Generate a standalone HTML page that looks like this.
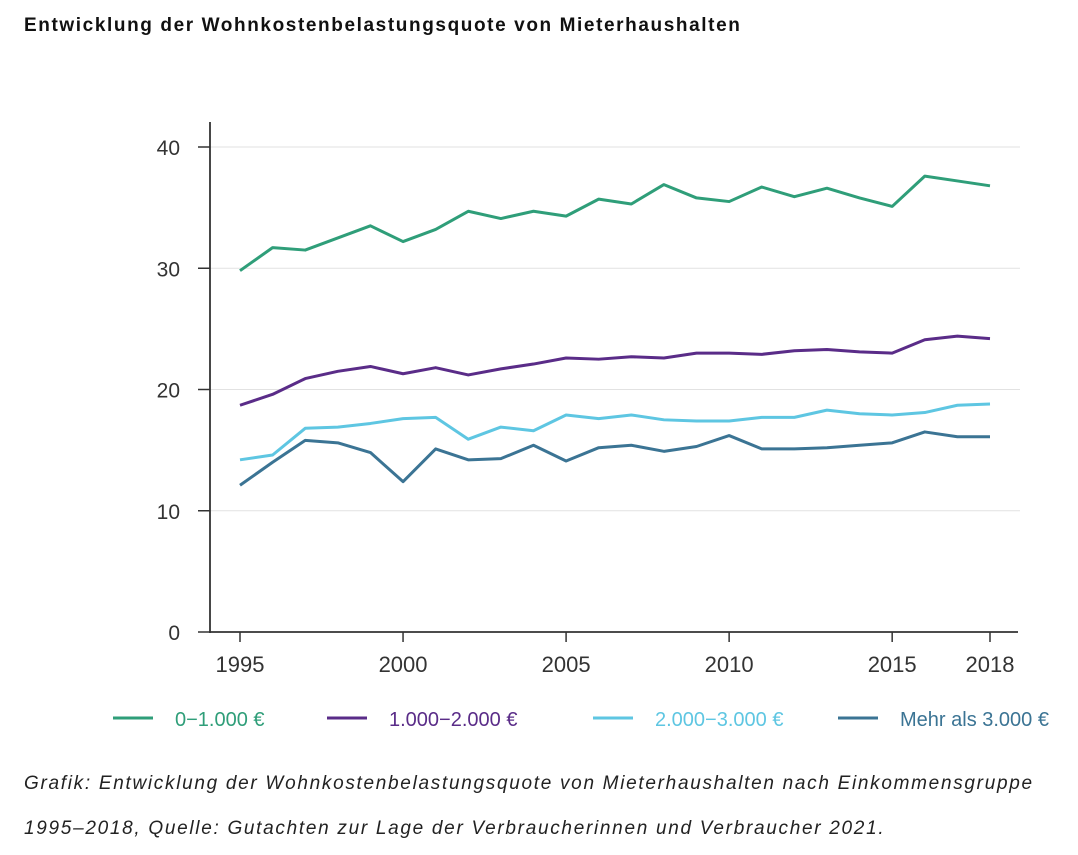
<!DOCTYPE html>
<html><head><meta charset="utf-8"><style>
body{margin:0;background:#fff;width:1078px;height:855px;overflow:hidden;font-family:"Liberation Sans",sans-serif;}
#title{position:absolute;left:24px;top:15px;font-weight:bold;font-size:19px;color:#111;letter-spacing:1.6px;}
.cap{position:absolute;left:24px;font-style:italic;font-size:19px;color:#222;letter-spacing:1.7px;white-space:nowrap;}
</style></head><body>
<div id="title">Entwicklung der Wohnkostenbelastungsquote von Mieterhaushalten</div>
<svg id="chart" width="1078" height="760" style="position:absolute;left:0;top:0"></svg>
<div class="cap" style="top:773px">Grafik: Entwicklung der Wohnkostenbelastungsquote von Mieterhaushalten nach Einkommensgruppe</div>
<div class="cap" style="top:818px">1995–2018, Quelle: Gutachten zur Lage der Verbraucherinnen und Verbraucher 2021.</div>
<script>
const years=[1995,1996,1997,1998,1999,2000,2001,2002,2003,2004,2005,2006,2007,2008,2009,2010,2011,2012,2013,2014,2015,2016,2017,2018];
const s1=[29.8,31.7,31.5,32.5,33.5,32.2,33.2,34.7,34.1,34.7,34.3,35.7,35.3,36.9,35.8,35.5,36.7,35.9,36.6,35.8,35.1,37.6,37.2,36.8];
const s2=[18.7,19.6,20.9,21.5,21.9,21.3,21.8,21.2,21.7,22.1,22.6,22.5,22.7,22.6,23.0,23.0,22.9,23.2,23.3,23.1,23.0,24.1,24.4,24.2];
const s3=[14.2,14.6,16.8,16.9,17.2,17.6,17.7,15.9,16.9,16.6,17.9,17.6,17.9,17.5,17.4,17.4,17.7,17.7,18.3,18.0,17.9,18.1,18.7,18.8];
const s4=[12.1,14.0,15.8,15.6,14.8,12.4,15.1,14.2,14.3,15.4,14.1,15.2,15.4,14.9,15.3,16.2,15.1,15.1,15.2,15.4,15.6,16.5,16.1,16.1];
const yTicks=[0,10,20,30,40];
const xTicks=[1995,2000,2005,2010,2015,2018];
const seriesNames=["0\u22121.000 €","1.000\u22122.000 €","2.000\u22123.000 €","Mehr als 3.000 €"];
const colors=["#2f9e79","#5a2c88","#5ec6e2","#3b7494"];
const NS="http://www.w3.org/2000/svg";
const svg=document.getElementById('chart');
const X=v=>240+(v-1995)*(990-240)/23;
const Y=v=>632-v*(632-147)/40;
function mk(t,a,p){const e=document.createElementNS(NS,t);for(const k in a)e.setAttribute(k,a[k]);(p||svg).appendChild(e);return e;}
yTicks.forEach(t=>{
 if(t>0){const g=mk('line',{x1:210,x2:1020,y1:Y(t),y2:Y(t),stroke:'#e2e2e2','stroke-width':1});
 
 }
 const tk=mk('line',{x1:198,x2:210,y1:Y(t),y2:Y(t),stroke:'#333','stroke-width':1.5});
 
 
 const l=mk('text',{x:180,y:Y(t)+8,'text-anchor':'end','font-size':21,fill:'#333'});l.textContent=t;
 
 
});
xTicks.forEach(t=>{
 const tk=mk('line',{x1:X(t),x2:X(t),y1:632,y2:642,stroke:'#333','stroke-width':1.5});
 
 
 const l=mk('text',{x:X(t),y:672,'text-anchor':'middle','font-size':22,fill:'#333'});l.textContent=t;
 
 
});
const ya=mk('line',{x1:210,x2:210,y1:122,y2:633,stroke:'#333','stroke-width':1.8});


const xa=mk('line',{x1:209,x2:1018,y1:632,y2:632,stroke:'#333','stroke-width':1.8});


[s1,s2,s3,s4].forEach((s,i)=>{
 const p=mk('polyline',{points:s.map((v,j)=>X(years[j])+','+Y(v)).join(' '),fill:'none',stroke:colors[i],'stroke-width':3,'stroke-linejoin':'round'});
 
 
});
const lx=[113,327,593,838];
seriesNames.forEach((n,i)=>{
 const l=mk('line',{x1:lx[i],x2:lx[i]+40,y1:718,y2:718,stroke:colors[i],'stroke-width':3});
 
 
 const t=mk('text',{x:lx[i]+62,y:726,'font-size':20,fill:colors[i]});t.textContent=n;
 
 
});
</script>
</body></html>
